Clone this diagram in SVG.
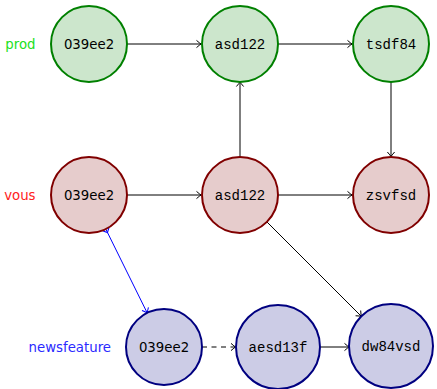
<svg xmlns="http://www.w3.org/2000/svg" width="437" height="389" viewBox="0 0 437 389">
<style>
.g{fill:#cce6cc;stroke:#008000;stroke-width:2}
.r{fill:#e6cccc;stroke:#800000;stroke-width:2}
.b{fill:#ccccE6;stroke:#000080;stroke-width:2}
.s{font-family:"DejaVu Sans",sans-serif;font-size:13.3px;fill:#000;text-anchor:middle}
.m{font-family:"Liberation Mono",monospace;font-size:14px;fill:#000;text-anchor:middle}
.lbl{font-family:"DejaVu Sans",sans-serif;font-size:13.3px;text-anchor:end}
.e{fill:none;stroke:#000;stroke-width:1;marker-end:url(#arr)}
</style>
<defs>
<marker id="arr" markerUnits="userSpaceOnUse" markerWidth="12" markerHeight="12" orient="auto" overflow="visible" refX="0" refY="0">
<path d="M-4.5,-3.6 Q-1,-0.6 0,0 Q-1,0.6 -4.5,3.6" fill="none" stroke="#000" stroke-width="1"/>
</marker>
<marker id="arrb" markerUnits="userSpaceOnUse" markerWidth="12" markerHeight="12" orient="auto" overflow="visible" refX="0" refY="0">
<path d="M-4.5,-3.6 Q-1,-0.6 0,0 Q-1,0.6 -4.5,3.6" fill="none" stroke="#0000ff" stroke-width="1"/>
</marker>
<marker id="tailb" markerUnits="userSpaceOnUse" markerWidth="12" markerHeight="12" orient="auto" overflow="visible" refX="0" refY="0">
<path d="M0,-3.6 Q3,-0.6 4,0 Q3,0.6 0,3.6" fill="none" stroke="#0000ff" stroke-width="1"/>
</marker>
</defs>
<rect width="437" height="389" fill="#fff"/>
<g id="labels">
<text class="lbl" x="35.5" y="49" fill="#22e022">prod</text>
<text class="lbl" x="35.5" y="200" fill="#ff2222">vous</text>
<text class="lbl" x="111" y="352" fill="#2a2aff">newsfeature</text>
</g>
<g id="connectors">
<path class="e" d="M127,44 H201"/>
<path class="e" d="M278,44 H352"/>
<path class="e" d="M391,82 V156.5"/>
<path class="e" d="M240,157 V82"/>
<path class="e" d="M127,195 H201"/>
<path class="e" d="M278,195 H352"/>
<path class="e" d="M266.9,221.9 L361.3,316.3"/>
<path d="M105.8,229.1 L147.2,312.9" fill="none" stroke="#0000ff" stroke-width="1" marker-start="url(#tailb)" marker-end="url(#arrb)"/>
<path class="e" d="M202,347 H235.5" stroke-dasharray="5,4.5"/>
<path class="e" d="M320,347 H349"/>
</g>
<g id="prod-039ee2"><circle class="g" cx="89" cy="44" r="38"/><text class="s" x="89" y="49">039ee2</text></g>
<g id="prod-asd122"><circle class="g" cx="240" cy="44" r="38"/><text class="m" x="240" y="49">asd122</text></g>
<g id="prod-tsdf84"><circle class="g" cx="391" cy="44" r="38"/><text class="m" x="391" y="49">tsdf84</text></g>
<g id="vous-039ee2"><circle class="r" cx="89" cy="195" r="38"/><text class="s" x="89" y="200">039ee2</text></g>
<g id="vous-asd122"><circle class="r" cx="240" cy="195" r="38"/><text class="m" x="240" y="200">asd122</text></g>
<g id="vous-zsvfsd"><circle class="r" cx="391" cy="195" r="38"/><text class="m" x="391" y="200">zsvfsd</text></g>
<g id="nf-039ee2"><circle class="b" cx="164" cy="347" r="38"/><text class="s" x="164" y="352">039ee2</text></g>
<g id="nf-aesd13f"><circle class="b" cx="278" cy="347" r="42"/><text class="m" x="278" y="352">aesd13f</text></g>
<g id="nf-dw84vsd"><circle class="b" cx="391" cy="346" r="42"/><text class="m" x="391" y="351">dw84vsd</text></g>
</svg>
